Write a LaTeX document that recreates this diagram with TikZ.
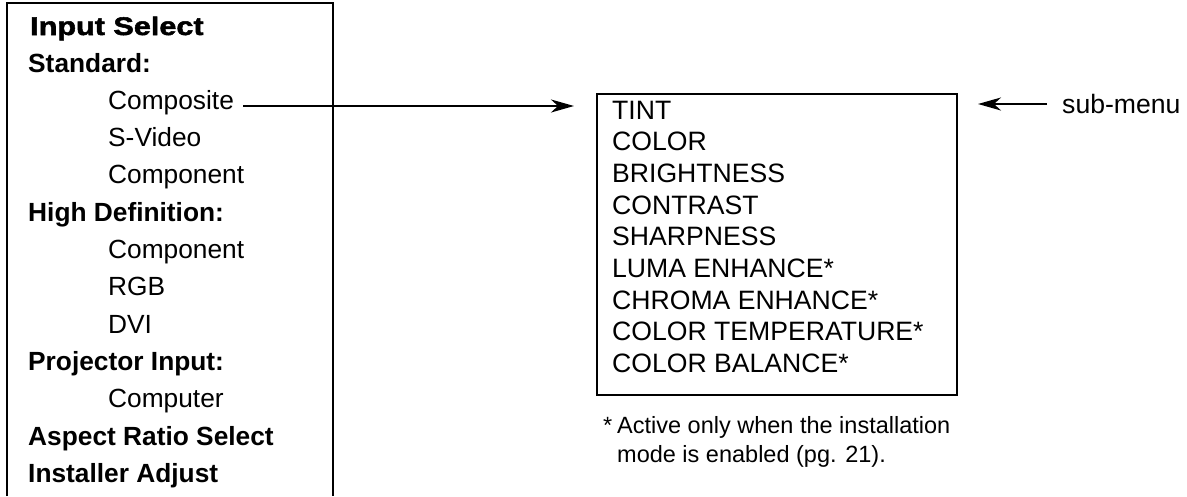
\documentclass[tikz,border=0pt]{standalone}
\usepackage{fontspec}
\setmainfont{Liberation Sans}
\newfontfamily\titlefont{Liberation Sans Bold}[FakeBold=2,FakeStretch=1.2]
\usetikzlibrary{arrows.meta}
\tikzset{
  frame/.style={line width=2.6pt},
  item/.style={anchor=base west, inner sep=0pt, font=\fontsize{26.3}{30}\selectfont},
  head/.style={anchor=base west, inner sep=0pt, font=\fontsize{26.3}{30}\selectfont\bfseries},
  menuitem/.style={anchor=base west, inner sep=0pt, font=\fontsize{26.6}{30}\selectfont},
  note/.style={anchor=base west, inner sep=0pt, font=\fontsize{23.5}{26}\selectfont},
  arr/.style={line width=2pt, -{Stealth[length=23pt,width=13pt,inset=7pt]}},
}
\begin{document}
\begin{tikzpicture}[x=1pt,y=-1pt]
\useasboundingbox (0,0) rectangle (1187,496);
% left menu frame (open at bottom)
\draw[frame] (7,496) -- (7,3) -- (333,3) -- (333,496);
\node[anchor=base west, inner sep=0pt, font=\fontsize{25.5}{30}\selectfont\titlefont] (title) at (30,35) {Input Select};
\node[head] (std) at (28,72) {Standard:};
\node[item] (composite) at (108,109.3) {Composite};
\node[item] (svideo) at (108,146.6) {S-Video};
\node[item] (comp1) at (108,183.9) {Component};
\node[head] (hd) at (28,221.2) {High Definition:};
\node[item] (comp2) at (108,258.5) {Component};
\node[item] (rgb) at (108,295.8) {RGB};
\node[item] (dvi) at (108,333.1) {DVI};
\node[head] (proj) at (28,370.4) {Projector Input:};
\node[item] (computer) at (108,407.7) {Computer};
\node[head] (aspect) at (28,445) {Aspect Ratio Select};
\node[head] (install) at (28,482.3) {Installer Adjust};
% sub-menu box
\node[draw, line width=2.4pt, minimum width=360pt, minimum height=301pt, inner sep=0pt] (sub) at (777,244.5) {};
\node[menuitem] (m1) at (612,119) {TINT};
\node[menuitem] (m2) at (612,150.7) {COLOR};
\node[menuitem] (m3) at (612,182.4) {BRIGHTNESS};
\node[menuitem] (m4) at (612,214.1) {CONTRAST};
\node[menuitem] (m5) at (612,245.8) {SHARPNESS};
\node[menuitem] (m6) at (612,277.5) {LUMA ENHANCE*};
\node[menuitem] (m7) at (612,309.2) {CHROMA ENHANCE*};
\node[menuitem] (m8) at (612,340.9) {COLOR TEMPERATURE*};
\node[menuitem] (m9) at (612,372.6) {COLOR BALANCE*};
% footnote
\node[note] (star) at (603,433) {*};
\node[note] (n1) at (617,433) {Active only when the installation};
\node[note] (n2) at (617,462) {mode is enabled (pg. 21).};
% sub-menu label
\node[menuitem] (sublabel) at (1062,113) {sub-menu};
% connectors
\coordinate (cstart) at (243,106);
\coordinate (ctip) at (574,106);
\draw[arr] (cstart) -- (ctip);
\coordinate (sstart) at (1047,104);
\coordinate (stip) at (978,104);
\draw[arr] (sstart) -- (stip);
\end{tikzpicture}
\end{document}
